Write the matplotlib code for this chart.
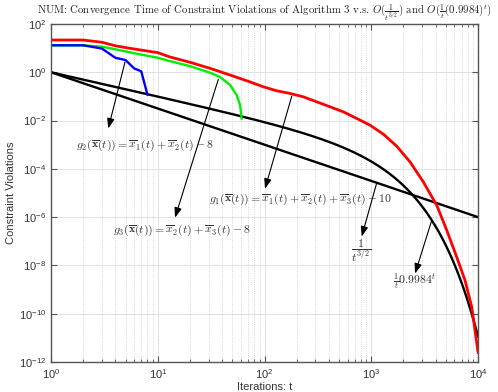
import matplotlib
matplotlib.use("Agg")
import matplotlib.pyplot as plt
import numpy as np
from matplotlib.ticker import LogLocator, NullLocator, LogFormatterSciNotation

plt.rcParams["font.family"] = ["Liberation Sans", "DejaVu Sans"]
plt.rcParams["mathtext.fontset"] = "cm"

# constraint violations (iteration, value)
red_t = [1, 2, 3, 4, 5, 7, 10, 13, 20, 31, 47.5, 73, 97.5, 130, 173, 231, 308, 411, 547,
         731, 973, 1297, 1730, 2307, 3073, 4104, 5094, 6313, 7551, 8730, 10000]
red_v = [21.7, 21.7, 17.5, 12.5, 10.5, 8.3, 6.5, 4.3, 2.6, 1.45, 0.77, 0.40, 0.25, 0.171,
         0.133, 0.0962, 0.0597, 0.037, 0.023, 0.0122, 0.00645, 0.00273, 8.67e-4, 1.93e-4,
         2.86e-5, 3.09e-6, 2.83e-7, 2.21e-8, 2.4e-9, 1.86e-10, 2.5e-12]

green_t = [1, 2, 3, 4, 5, 7, 10, 13, 20, 31, 38, 47.5, 55, 59, 61]
green_v = [13.1, 13.1, 11.5, 9.0, 7.3, 5.4, 4.0, 2.9, 1.8, 0.95, 0.65, 0.3, 0.11, 0.044, 0.0122]

blue_t = [1, 2, 3, 4, 5, 6, 7, 8]
blue_v = [13.1, 13.1, 9.6, 4.0, 3.2, 1.45, 1.1, 0.12]

# reference bounds from the title
t_max = 10000
poly_exp = 1.5
geo_base = 0.9984

fig = plt.figure(figsize=(4.98, 3.92), dpi=100)
ax = fig.add_axes([0.1024, 0.0765, 0.8576, 0.8623])

t = np.arange(1, t_max + 1)
ax.plot(t, 1.0 / t ** poly_exp, color="k", lw=1.7)
ax.plot(t, geo_base ** t / t, color="k", lw=1.7)
ax.plot(red_t, red_v, color="red", lw=2.0)
ax.plot(green_t, green_v, color="#00ee00", lw=1.7)
ax.plot(blue_t, blue_v, color="blue", lw=1.7)

ax.set_xscale("log")
ax.set_yscale("log")
ax.set_xlim(1, 1e4)
ax.set_ylim(1e-12, 1e2)
ax.set_yticks([10.0 ** k for k in range(-12, 3, 2)])
ax.yaxis.set_minor_locator(NullLocator())
ax.xaxis.set_minor_locator(LogLocator(base=10, subs=np.arange(2, 10)))
ax.yaxis.set_major_formatter(LogFormatterSciNotation())

ax.grid(True, which="major", color="#dcdcdc", lw=0.6, ls="-")
ax.grid(True, which="minor", axis="x", color="#c8c8c8", lw=0.6, ls=":")
ax.set_axisbelow(True)

for s in ax.spines.values():
    s.set_color("#555555")
    s.set_linewidth(1.0)
ax.tick_params(which="both", direction="in", top=True, right=True, colors="#555555",
               labelcolor="#333333", labelsize=8)
ax.tick_params(which="major", length=4)
ax.tick_params(which="minor", length=2.5)

ax.set_xlabel("Iterations: t", fontsize=8, color="#333333", labelpad=1)
ax.set_ylabel("Constraint Violations", fontsize=8, color="#333333", labelpad=2)
ax.set_title(r"NUM: Convergence Time of Constraint Violations of Algorithm 3 v.s. "
             r"$O(\frac{1}{t^{3/2}})$ and $O(\frac{1}{t}(0.9984)^t)$",
             fontsize=7.8, family="cmr10", color="#222222", pad=5)

# arrows from curves to their labels
arrow = dict(arrowstyle="-|>,head_length=0.6,head_width=0.22", color="k", lw=0.8,
             shrinkA=0, shrinkB=0)
ax.annotate("", xy=(3.44, 0.0047), xytext=(4.94, 2.73), arrowprops=arrow)
ax.annotate("", xy=(14.5, 9.5e-7), xytext=(36.9, 0.51), arrowprops=arrow)
ax.annotate("", xy=(101, 1.5e-5), xytext=(180, 0.103), arrowprops=arrow)
ax.annotate("", xy=(813, 1.58e-7), xytext=(1125, 1125 ** -poly_exp), arrowprops=arrow)
ax.annotate("", xy=(2570, 4.6e-9), xytext=(3683, geo_base ** 3683 / 3683), arrowprops=arrow)

txt = dict(fontsize=8.5, color="#333333", ha="center", va="center")
ax.text(7.6, 9.5e-4, r"$g_2(\overline{\mathbf{x}}(t)) = \overline{x}_1(t) + \overline{x}_2(t) - 8$", **txt)
ax.text(16.9, 2.8e-7, r"$g_3(\overline{\mathbf{x}}(t)) = \overline{x}_2(t) + \overline{x}_3(t) - 8$", **txt)
ax.text(215, 5.5e-6, r"$g_1(\overline{\mathbf{x}}(t)) = \overline{x}_1(t) + \overline{x}_2(t) + \overline{x}_3(t) - 10$", **txt)
ax.text(813, 4.2e-8, r"$\dfrac{1}{t^{3/2}}$", fontsize=8.5, color="#333333", ha="center", va="center")
ax.text(2570, 2.0e-9, r"$\frac{1}{t}0.9984^t$", **txt)

plt.savefig("out.png", dpi=100)
